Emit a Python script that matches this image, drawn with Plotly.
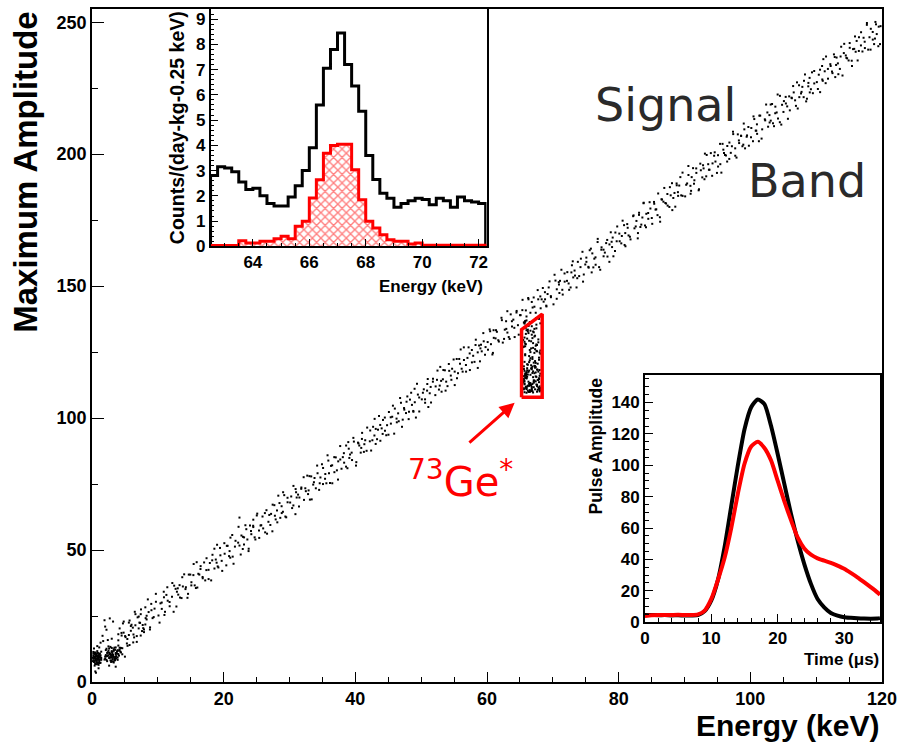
import plotly.graph_objects as go

# ---------------- main scatter: signal band ----------------
BAND_E = [4.0,4.2,4.5,4.7,5.1,5.4,5.6,5.9,6.0,6.3,6.5,6.8,7.2,7.4,7.7,7.9,8.1,8.3,8.6,8.8,
9.0,9.2,9.5,9.7,10.1,10.4,10.6,10.9,11.0,11.3,11.5,11.8,12.2,12.4,12.7,12.9,13.1,13.3,13.6,13.8,
14.0,14.2,14.5,14.7,15.1,15.4,15.6,15.9,16.0,16.3,16.5,16.8,17.2,17.4,17.7,17.9,18.1,18.3,18.6,18.8,
19.0,19.2,19.5,19.7,20.1,20.4,20.6,20.9,21.0,21.3,21.5,21.8,22.2,22.4,22.7,22.9,23.1,23.3,23.6,23.8,
24.0,24.2,24.5,24.7,25.1,25.4,25.6,25.9,26.0,26.3,26.5,26.8,27.2,27.4,27.7,27.9,28.1,28.3,28.6,28.8,
29.0,29.2,29.5,29.7,30.1,30.4,30.6,30.9,31.0,31.3,31.5,31.8,32.2,32.4,32.7,32.9,33.1,33.3,33.6,33.8,
34.0,34.2,34.5,34.7,35.1,35.4,35.6,35.9,36.0,36.3,36.5,36.8,37.2,37.4,37.7,37.9,38.1,38.3,38.6,38.8,
39.0,39.2,39.5,39.7,40.1,40.4,40.6,40.9,41.0,41.3,41.5,41.8,42.2,42.4,42.7,42.9,43.1,43.3,43.6,43.8,
44.0,44.2,44.5,44.7,45.1,45.4,45.6,45.9,46.0,46.3,46.5,46.8,47.2,47.4,47.7,47.9,48.1,48.3,48.6,48.8,
49.0,49.2,49.5,49.7,50.1,50.4,50.6,50.9,51.0,51.3,51.5,51.8,52.2,52.4,52.7,52.9,53.1,53.3,53.6,53.8,
54.0,54.2,54.5,54.7,55.1,55.4,55.6,55.9,56.0,56.3,56.5,56.8,57.2,57.4,57.7,57.9,58.1,58.3,58.6,58.8,
59.0,59.2,59.5,59.7,60.1,60.4,60.6,60.9,61.0,61.3,61.5,61.8,62.2,62.4,62.7,62.9,63.1,63.3,63.6,63.8,
64.0,64.2,64.5,64.7,65.1,65.4,65.6,65.9,66.0,66.3,66.5,66.8,67.2,67.4,67.7,67.9,68.1,68.3,68.6,68.8,
69.0,69.2,69.5,69.7,70.1,70.4,70.6,70.9,71.0,71.3,71.5,71.8,72.2,72.4,72.7,72.9,73.1,73.3,73.6,73.8,
74.0,74.2,74.5,74.7,75.1,75.4,75.6,75.9,76.0,76.3,76.5,76.8,77.2,77.4,77.7,77.9,78.1,78.3,78.6,78.8,
79.0,79.2,79.5,79.7,80.1,80.4,80.6,80.9,81.0,81.3,81.5,81.8,82.2,82.4,82.7,82.9,83.1,83.3,83.6,83.8,
84.0,84.2,84.5,84.7,85.1,85.4,85.6,85.9,86.0,86.3,86.5,86.8,87.2,87.4,87.7,87.9,88.1,88.3,88.6,88.8,
89.0,89.2,89.5,89.7,90.1,90.4,90.6,90.9,91.0,91.3,91.5,91.8,92.2,92.4,92.7,92.9,93.1,93.3,93.6,93.8,
94.0,94.2,94.5,94.7,95.1,95.4,95.6,95.9,96.0,96.3,96.5,96.8,97.2,97.4,97.7,97.9,98.1,98.3,98.6,98.8,
99.0,99.2,99.5,99.7,100.1,100.4,100.6,100.9,101.0,101.3,101.5,101.8,102.2,102.4,102.7,102.9,103.1,103.3,103.6,103.8,
104.0,104.2,104.5,104.7,105.1,105.4,105.6,105.9,106.0,106.3,106.5,106.8,107.2,107.4,107.7,107.9,108.1,108.3,108.6,108.8,
109.0,109.2,109.5,109.7,110.1,110.4,110.6,110.9,111.0,111.3,111.5,111.8,112.2,112.4,112.7,112.9,113.1,113.3,113.6,113.8,
114.0,114.2,114.5,114.7,115.1,115.4,115.6,115.9,116.0,116.3,116.5,116.8,117.2,117.4,117.7,117.9,118.1,118.3,118.6,118.8,
119.0,119.2,119.5,119.7,22.4,24.5]
BAND_A = [18.1,13.0,17.6,22.2,17.0,13.7,22.5,19.4,21.7,18.0,26.6,17.4,22.5,25.7,21.6,19.9,28.3,23.7,26.5,19.9,
29.6,24.2,27.8,33.4,25.2,29.8,27.7,34.2,25.4,33.0,30.8,28.7,37.5,26.6,35.3,34.2,33.1,36.7,31.8,36.2,
40.8,35.2,31.9,40.7,37.8,40.5,36.6,45.4,35.8,40.7,43.9,39.8,38.5,46.9,42.5,45.1,38.5,48.2,43.0,46.4,
52.0,43.4,48.0,45.9,52.6,44.2,51.6,49.6,47.1,55.7,44.8,53.5,52.8,51.7,55.5,50.4,54.8,59.4,54.0,50.5,
59.3,56.0,58.7,54.8,63.8,54.6,59.3,62.7,58.2,56.7,65.1,60.7,63.7,57.1,67.0,61.6,65.0,70.6,62.2,66.6,
64.5,70.8,62.4,69.8,68.0,65.9,74.3,63.6,71.9,71.0,69.9,73.7,69.0,73.4,78.2,72.6,69.1,77.9,74.8,77.3,
73.4,82.0,72.8,77.5,81.1,77.0,75.3,83.9,79.1,81.9,75.3,85.2,80.2,83.6,89.4,80.8,85.2,83.1,89.6,81.0,
88.4,86.2,84.1,92.5,82.0,90.7,89.6,88.7,92.1,87.2,91.6,96.4,91.2,87.7,96.7,93.4,95.9,92.0,100.8,91.4,
96.1,99.3,95.2,93.5,102.3,97.9,100.5,94.1,103.6,98.4,101.8,107.6,99.4,103.8,101.9,108.2,99.6,107.0,105.0,102.7,
111.1,100.2,108.9,107.8,107.1,110.9,105.8,110.4,114.8,109.4,105.9,114.9,112.0,114.5,110.8,119.4,110.0,114.7,118.1,113.8,
112.1,120.5,116.1,118.7,112.5,122.4,117.0,120.6,126.0,117.6,122.0,120.1,126.8,118.2,125.8,123.6,121.3,129.7,119.0,127.5,
126.4,125.3,129.1,124.0,128.8,133.6,128.0,124.7,133.3,130.2,132.7,129.0,138.0,128.6,133.5,136.7,132.4,130.7,139.3,134.7,
137.3,130.7,140.6,135.2,139.0,144.8,136.2,140.8,138.5,145.0,136.4,144.0,142.2,139.9,148.5,137.6,146.1,145.0,144.1,147.7,
142.6,147.0,151.8,146.2,143.1,152.1,148.8,151.5,147.4,156.2,146.8,151.7,155.3,151.0,149.5,157.9,153.3,155.9,149.5,159.2,
153.8,157.2,163.0,154.4,159.2,157.3,163.6,155.2,162.4,160.4,158.1,166.7,156.2,164.7,163.8,162.7,166.3,161.2,165.8,170.4,
164.8,161.3,170.3,167.0,169.9,166.2,174.8,165.6,170.1,173.5,169.2,167.7,176.5,171.9,174.7,168.1,177.8,172.4,176.0,181.6,
173.0,177.4,175.5,181.8,173.6,181.2,179.0,176.9,185.1,174.4,182.9,182.0,181.3,184.9,180.0,184.4,189.0,183.4,180.1,188.9,
185.6,188.1,184.4,193.0,184.0,188.9,192.1,188.0,186.1,194.7,190.1,192.9,186.7,196.4,191.2,194.6,200.2,191.6,196.2,194.1,
200.4,191.8,199.4,197.2,195.3,203.9,193.0,201.7,200.4,199.5,203.1,198.2,203.0,207.6,202.2,198.7,207.5,204.2,206.9,203.0,
211.6,202.2,207.1,210.3,206.4,204.9,213.3,208.9,211.3,204.9,214.6,209.4,213.2,218.8,210.4,214.8,212.7,219.0,210.6,218.0,
215.8,213.5,222.1,211.2,220.1,219.2,218.1,221.9,216.6,221.2,225.8,220.4,217.3,226.1,223.0,225.5,221.6,230.2,221.0,225.7,
228.9,224.6,223.1,231.5,227.3,230.1,223.5,233.4,227.8,231.4,237.0,228.6,233.4,231.3,237.8,229.2,236.6,234.4,232.3,240.7,
229.8,238.3,237.4,236.3,240.3,235.4,239.8,244.6,238.8,235.5,244.3,241.2,244.1,240.2,249.0,239.6,244.3,247.5,243.4,241.7,
250.1,245.5,248.3,241.7,62.3,61.5]

# second batch of band events
BAND2_E = [4.15,4.48,4.82,5.03,5.37,5.71,6.26,6.59,6.93,7.09,7.44,7.78,8.15,8.48,8.82,9.03,9.37,9.71,
10.26,10.59,10.93,11.09,11.44,11.78,12.15,12.48,12.82,13.03,13.37,13.71,14.26,14.59,14.93,15.09,15.44,15.78,
16.15,16.48,16.82,17.03,17.37,17.71,18.26,18.59,18.93,19.09,19.44,19.78,20.15,20.48,20.82,21.03,21.37,21.71,
22.26,22.59,22.93,23.09,23.44,23.78,24.15,24.48,24.82,25.03,25.37,25.71,26.26,26.59,26.93,27.09,27.44,27.78,
28.15,28.48,28.82,29.03,29.37,29.71,30.26,30.59,30.93,31.09,31.44,31.78,32.15,32.48,32.82,33.03,33.37,33.71,
34.26,34.59,34.93,35.09,35.44,35.78,36.15,36.48,36.82,37.03,37.37,37.71,38.26,38.59,38.93,39.09,39.44,39.78,
40.15,40.48,40.82,41.03,41.37,41.71,42.26,42.59,42.93,43.09,43.44,43.78,44.15,44.48,44.82,45.03,45.37,45.71,
46.26,46.59,46.93,47.09,47.44,47.78,48.15,48.48,48.82,49.03,49.37,49.71,50.26,50.59,50.93,51.09,51.44,51.78,
52.15,52.48,52.82,53.03,53.37,53.71,54.26,54.59,54.93,55.09,55.44,55.78,56.15,56.48,56.82,57.03,57.37,57.71,
58.26,58.59,58.93,59.09,59.44,59.78,60.15,60.48,60.82,61.03,61.37,61.71,62.26,62.59,62.93,63.09,63.44,63.78,
64.15,64.48,64.82,65.03,65.37,65.71,66.26,66.59,66.93,67.09,67.44,67.78,68.15,68.48,68.82,69.03,69.37,69.71,
70.26,70.59,70.93,71.09,71.44,71.78,72.15,72.48,72.82,73.03,73.37,73.71,74.26,74.59,74.93,75.09,75.44,75.78,
76.15,76.48,76.82,77.03,77.37,77.71,78.26,78.59,78.93,79.09,79.44,79.78,80.15,80.48,80.82,81.03,81.37,81.71,
82.26,82.59,82.93,83.09,83.44,83.78,84.15,84.48,84.82,85.03,85.37,85.71,86.26,86.59,86.93,87.09,87.44,87.78,
88.15,88.48,88.82,89.03,89.37,89.71,90.26,90.59,90.93,91.09,91.44,91.78,92.15,92.48,92.82,93.03,93.37,93.71,
94.26,94.59,94.93,95.09,95.44,95.78,96.15,96.48,96.82,97.03,97.37,97.71,98.26,98.59,98.93,99.09,99.44,99.78,
100.15,100.48,100.82,101.03,101.37,101.71,102.26,102.59,102.93,103.09,103.44,103.78,104.15,104.48,104.82,105.03,105.37,105.71,
106.26,106.59,106.93,107.09,107.44,107.78,108.15,108.48,108.82,109.03,109.37,109.71,110.26,110.59,110.93,111.09,111.44,111.78,
112.15,112.48,112.82,113.03,113.37,113.71,114.26,114.59,114.93,115.09,115.44,115.78,116.15,116.48,116.82,117.03,117.37,117.71,
118.26,118.59,118.93,119.09,119.44,119.78]
BAND2_A = [11.9,18.6,22.9,17.4,16.3,23.3,15.0,21.5,24.5,20.3,27.5,20.4,24.2,31.3,20.7,27.2,24.6,30.4,
22.5,30.1,32.1,26.6,35.9,30.3,32.3,36.5,28.6,35.5,32.0,39.7,35.9,33.4,40.7,36.6,44.7,35.6,
41.0,42.8,39.3,45.3,42.4,39.0,46.1,50.5,45.2,43.8,50.8,42.1,48.6,51.6,47.7,54.7,47.5,51.3,
58.8,48.3,55.0,52.1,57.9,49.6,57.2,59.2,54.0,63.1,57.4,59.4,64.0,56.2,63.3,59.5,67.2,63.0,
60.5,67.8,64.0,71.9,62.7,68.1,70.3,66.9,73.1,69.9,66.5,73.2,77.6,72.3,71.2,78.0,69.2,75.7,
79.1,75.3,82.5,75.0,78.8,85.9,75.4,82.1,79.5,85.1,76.7,84.3,86.7,81.6,90.9,84.9,86.9,91.1,
83.3,90.4,86.9,94.4,90.1,87.6,95.3,91.6,99.7,90.2,95.6,97.4,94.0,100.2,97.3,93.7,100.3,104.7,
99.8,98.8,105.8,96.7,103.2,106.2,102.4,109.6,102.4,106.0,113.0,102.5,109.6,107.1,112.9,104.2,111.8,113.8,
108.7,118.0,112.3,114.1,118.2,110.4,117.9,114.5,122.2,117.6,115.1,122.4,118.7,126.8,117.6,122.8,124.5,121.1,
127.7,124.9,121.5,127.8,132.2,126.9,125.9,132.9,124.1,130.4,133.3,129.5,137.1,130.0,133.8,140.5,130.0,136.7,
134.2,140.0,131.6,139.0,140.9,135.8,145.5,139.9,141.9,145.7,137.9,145.0,141.6,149.3,145.0,142.3,149.5,145.8,
154.3,145.2,150.6,152.0,148.6,154.8,152.0,148.6,155.2,159.4,154.0,153.0,160.4,151.7,158.2,160.8,157.0,164.2,
157.1,160.9,167.9,157.2,163.8,161.3,167.5,159.2,166.8,168.4,163.3,172.6,167.0,169.0,173.1,165.1,172.1,168.7,
176.8,172.6,170.1,177.0,173.3,181.4,172.3,177.7,179.4,175.8,181.9,179.1,176.1,182.8,187.2,181.5,180.5,187.5,
178.8,185.3,188.2,184.2,191.3,184.2,188.4,195.5,185.0,191.3,188.8,194.6,186.3,193.9,195.8,190.5,199.7,194.1,
196.5,200.7,192.9,199.6,196.2,203.9,199.7,197.2,204.4,200.5,208.5,199.4,205.2,207.0,203.6,209.4,206.6,203.2,
209.9,214.3,208.9,207.7,214.6,205.9,212.8,215.8,212.0,218.8,211.7,215.5,222.6,212.1,218.7,216.0,221.7,213.4,
221.4,223.4,218.3,227.2,221.6,223.6,227.8,220.0,227.0,223.4,231.0,226.8,224.7,232.0,228.3,236.0,226.9,232.3,
234.1,230.7,236.8,233.8,230.3,237.0,241.8,236.5,235.5,242.1,233.4,239.9,242.9,239.1,246.2,238.9,242.6,249.7,
239.6,246.3,243.8,249.2,240.9,248.5]

# ---------------- 73Ge* cluster ----------------
GE_E = [66.2,65.6,67.4,66.8,65.9,67.9,66.5,67.1,65.7,68.1,66.0,67.6,66.7,65.5,67.2,66.3,67.8,65.8,66.9,67.0,66.4,68.0,65.6,67.5,66.1,66.6,67.3,65.9,67.7,66.8,
65.7,67.0,66.4,67.6,65.8,66.9,68.1,66.2,65.5,67.3,66.6,67.9,66.0,65.9,67.5,66.7,66.1,67.2,65.6,68.0,66.5,67.4,65.7,66.8,67.8,66.3,65.8,67.1,66.9,66.0,
67.3,66.1,65.6,66.9,67.7,65.8,66.4,67.0,68.0,65.9,66.6,67.5,66.2,65.5,67.8,66.8,65.7,67.2,66.5,68.1,66.0,67.4,65.6,66.7,67.9,66.3,65.9,67.1,66.8,67.6,
66.6,65.9,67.8,66.1,67.2,65.7,66.9,67.5,66.3,68.0,65.6,67.0,66.5,67.7,65.8,66.2,67.3,66.8,65.5,67.9,66.4,67.1,65.7,66.0,67.6,66.7,65.8,68.1,66.3,67.4,
65.8,67.2,66.0,66.8,67.6,65.6,66.5,67.9,66.2,65.9,67.4,66.7,68.1,65.7,66.3,67.1,66.9,65.5,67.7,66.1,67.0,65.8,66.6,67.5,66.4,68.0,65.9,67.3,66.0,66.7,
67.1,66.4,65.7,67.8,66.0,66.9,65.6,67.3,66.6,68.0,65.9,66.2,67.6,66.8,65.8,67.0,66.5,67.9,65.5,66.3,67.4,66.1,65.7,67.2,66.7,68.1,66.0,65.9,67.5,66.5]
GE_A = [112.3,118.6,127.4,110.8,134.2,115.1,121.9,113.7,130.5,111.4,117.2,125.3,136.1,114.6,119.8,109.9,128.7,116.3,112.9,132.8,123.5,110.5,115.9,135.4,118.1,113.2,126.1,111.9,120.6,131.6,
114.0,117.7,129.3,112.1,124.2,110.2,116.8,133.5,113.5,119.1,122.7,111.1,137.0,115.4,127.9,112.6,118.9,130.9,110.9,116.0,125.8,113.9,121.3,134.8,111.6,117.5,128.2,114.3,119.5,109.6,
131.2,115.7,111.3,122.4,118.3,136.5,113.0,126.6,110.1,116.6,133.1,112.7,120.2,114.9,129.8,111.8,117.9,124.7,110.6,135.9,115.2,119.3,127.1,112.4,113.6,132.2,116.1,121.0,110.3,118.4,
125.0,111.5,114.4,130.1,117.0,109.8,123.1,115.6,134.9,112.0,119.6,128.4,113.3,110.7,136.8,116.5,121.6,111.2,126.9,114.8,118.0,132.5,112.8,117.4,110.0,129.1,115.3,124.4,113.8,120.9,
116.9,133.8,111.0,119.0,127.7,114.1,112.5,122.1,110.4,131.9,115.8,118.8,125.6,113.1,135.1,111.7,117.1,129.6,114.5,120.4,109.7,123.8,116.4,134.0,112.2,118.2,128.0,110.9,115.0,126.4,
113.4,121.2,136.3,117.6,111.3,130.3,114.7,119.7,110.2,124.9,116.2,132.9,112.6,118.5,127.2,115.5,109.9,122.9,113.8,135.6,117.3,111.9,128.9,114.2,120.0,110.6,133.3,116.7,125.5,112.9]

# ---------------- low-energy clusters ----------------
LOW_E = [0.2,0.5,0.9,1.2,0.3,0.7,1.0,1.4,0.1,0.6,0.8,1.3,0.4,1.1,0.2,0.9,0.5,1.2,0.7,0.3,1.0,0.6,1.4,0.8,0.2,1.1,0.4,0.9,0.6,1.3,
0.3,0.7,1.0,0.5,1.2,0.1,0.8,0.4,1.1,0.6,0.9,0.3,1.3,0.7,0.2,1.0,0.5,0.8,1.2,0.4,0.6,1.4,0.3,0.9,0.7,1.1,0.5,0.2,1.0,0.8,
2.1,2.6,3.0,3.4,3.9,2.3,2.8,3.2,3.6,4.1,2.0,2.5,2.9,3.3,3.7,4.4,2.2,2.7,3.1,3.5,3.8,2.4,3.0,3.4,4.0,1.9,2.6,3.2,3.6,4.2,
2.1,2.8,3.3,3.7,2.5,2.9,3.1,3.5,3.9,2.3,2.7,3.0,3.4,4.3,2.0,2.6,3.2,3.6,2.4,2.8,3.3,3.8,2.2,3.0,3.5,4.0,2.5,2.9,3.1,3.7,
2.1,2.7,3.4,3.9,4.6,2.3,3.2,3.6,2.8,3.0,
0.5,1.0,1.6,2.2,0.8,1.9,3.2,4.0,4.8,5.3,5.9,6.4,7.1,7.6,0.3,1.3,2.6,3.6,4.4,5.0,5.6,6.2,6.8,7.3,7.9,8.3,1.7,2.7,3.0,4.2,
0.6,1.1,2.4,3.9,5.7,6.6,7.4,8.1,2.0,4.6]
LOW_A = [8.1,9.6,7.4,10.8,9.0,6.7,8.8,11.5,7.9,10.2,8.4,9.3,6.2,10.5,9.9,7.1,11.2,8.6,9.8,7.6,10.0,8.9,9.1,6.9,10.7,7.8,9.4,11.0,8.2,7.3,
9.7,10.4,6.5,8.7,9.5,9.2,11.7,7.7,8.3,10.9,9.1,8.0,10.1,7.5,11.4,8.5,6.8,9.9,7.2,10.6,9.0,8.4,11.1,9.7,8.0,10.3,7.0,8.8,9.4,10.0,
10.2,9.1,11.4,8.6,12.0,7.9,10.8,9.5,13.1,10.0,8.8,11.9,10.3,7.4,9.8,11.2,12.6,9.4,10.7,8.3,11.6,10.1,12.9,9.0,10.6,8.5,11.1,7.7,10.4,12.3,
9.7,8.2,11.8,10.9,13.5,9.9,8.7,12.2,9.3,11.0,10.5,8.0,13.0,11.5,9.6,12.7,10.1,8.9,11.3,9.2,12.4,10.8,8.4,11.7,9.5,13.8,10.0,7.6,11.4,9.0,
12.1,10.6,8.1,11.9,12.8,9.8,10.3,11.0,13.3,9.4,
4.0,5.2,17.5,19.8,13.6,23.4,22.9,15.8,18.7,14.6,21.2,16.9,24.8,19.3,12.7,14.9,6.2,5.8,12.9,9.6,17.8,20.6,15.2,22.4,18.9,25.1,15.5,24.1,16.4,20.3,
3.5,13.1,15.9,8.4,14.0,25.7,17.6,21.8,21.0,10.5]

# ---------------- inset 1: energy spectrum (0.25 keV bins) ----------------
HIST_FIRST_EDGE = 62.5
HIST_BIN_WIDTH = 0.25
HIST_ALL = [2.8,3.15,3.1,2.95,2.55,2.25,2.3,2.0,1.7,1.6,1.6,1.95,2.4,3.0,3.9,5.6,7.05,7.8,8.45,7.2,
            6.35,5.35,3.6,2.65,2.1,1.9,1.55,1.7,1.8,1.9,1.85,1.65,1.9,1.8,1.55,1.95,1.8,1.75,1.7]
HIST_GE = [0.03,0.03,0.03,0.03,0.22,0.13,0.13,0.2,0.2,0.3,0.4,0.3,0.79,0.99,1.91,2.64,3.69,3.99,4.04,4.04,
           3.03,1.84,0.99,0.72,0.46,0.26,0.2,0.2,0.09,0.13,0.04,0.04,0.04,0.04,0.04,0.04,0.04,0.04,0.04]

# ---------------- inset 2: pulses ----------------
PULSE_T = [0,1,2,3,4,5,6,7,8,9,10,11,12,13,14,15,16,17,18,19,20,21,22,23,24,25,26,27,28,29,30,31,32,33,34,35,35.4]
PULSE_SIGNAL = [4.5,4.6,4.4,4.5,4.3,4.4,4.2,4.3,4.5,7.0,13.8,27,48,74,100,123,137,142,139,125,107,88,69,52,37,
                24.4,14.8,9.5,5.9,4.2,3.2,2.8,2.5,2.3,2.2,2.3,2.6]
PULSE_GE = [4.0,4.4,4.6,4.5,4.6,4.7,4.6,4.6,5.0,7.4,14.8,27,41,60,82,101,112,115,111,103,90,77,65,54,47,
            43,40.7,39.2,37.8,36,34,31.4,28.6,25.5,22.3,19,17.5]

# ---------------- annotation geometry (data units) ----------------
GE_BOX_E = [65.25, 68.38, 68.38, 65.25, 65.25]
GE_BOX_A = [107.9, 107.9, 139.4, 133.5, 107.9]
ARROW_TAIL = (57.1, 90.2)
ARROW_HEAD = (64.2, 105.8)

RED = "#ff0000"
FONT = "Liberation Sans"

edges = [HIST_FIRST_EDGE + i * HIST_BIN_WIDTH for i in range(len(HIST_ALL) + 1)]
centers = [HIST_FIRST_EDGE + (i + 0.5) * HIST_BIN_WIDTH for i in range(len(HIST_ALL))]


def step(vals):
    xs = [edges[0]] + edges[:-1] + [edges[-1], edges[-1]]
    ys = [0] + list(vals) + [vals[-1], 0]
    return xs, ys


fig = go.Figure()

for ex, ay in ((BAND_E, BAND_A), (BAND2_E, BAND2_A), (GE_E, GE_A), (LOW_E, LOW_A)):
    fig.add_trace(go.Scatter(x=ex, y=ay, mode="markers", xaxis="x", yaxis="y",
                             marker=dict(size=2, color="black", symbol="square", line=dict(width=0)),
                             hoverinfo="skip", showlegend=False))

fig.add_trace(go.Scatter(x=GE_BOX_E, y=GE_BOX_A, mode="lines", xaxis="x", yaxis="y",
                         line=dict(color=RED, width=3.5), hoverinfo="skip", showlegend=False))

# inset 1
fig.add_trace(go.Bar(x=centers, y=HIST_GE, width=HIST_BIN_WIDTH, xaxis="x2", yaxis="y2",
                     marker=dict(color=RED, line=dict(width=0),
                                 pattern=dict(shape="x", fgcolor=RED, bgcolor="white", size=6, solidity=0.4)),
                     hoverinfo="skip", showlegend=False))
sx, sy = step(HIST_ALL)
fig.add_trace(go.Scatter(x=sx, y=sy, mode="lines", line=dict(color="black", width=3, shape="hv"),
                         xaxis="x2", yaxis="y2", hoverinfo="skip", showlegend=False))
sx, sy = step(HIST_GE)
fig.add_trace(go.Scatter(x=sx, y=sy, mode="lines", line=dict(color=RED, width=3, shape="hv"),
                         xaxis="x2", yaxis="y2", hoverinfo="skip", showlegend=False))

# inset 2
fig.add_trace(go.Scatter(x=PULSE_T, y=PULSE_SIGNAL, mode="lines", xaxis="x3", yaxis="y3",
                         line=dict(color="black", width=4, shape="spline", smoothing=0.6),
                         hoverinfo="skip", showlegend=False))
fig.add_trace(go.Scatter(x=PULSE_T, y=PULSE_GE, mode="lines", xaxis="x3", yaxis="y3",
                         line=dict(color=RED, width=4, shape="spline", smoothing=0.6),
                         hoverinfo="skip", showlegend=False))


def ax(**kw):
    base = dict(showgrid=False, zeroline=False, showline=True, linecolor="black", linewidth=1.5,
                mirror=True, ticks="inside", tickcolor="black", tickwidth=1.2,
                tickfont=dict(family=FONT, size=18, color="black", weight="bold"))
    base.update(kw)
    return base


W, H = 904, 746
ML, MR, MT, MB = 92, 19, 7, 64
PW, PH = W - ML - MR, H - MT - MB


def px(xpix):
    return (xpix - ML) / PW


def py(ypix):
    return (H - MB - ypix) / PH


INSET_TICKFONT = dict(family=FONT, size=17, color="black", weight="bold")

fig.update_layout(
    width=W, height=H, margin=dict(l=ML, r=MR, t=MT, b=MB),
    paper_bgcolor="white", plot_bgcolor="white", bargap=0, showlegend=False,
    xaxis=ax(range=[0, 120], domain=[0, 1], dtick=20, ticklen=10,
             minor=dict(dtick=5, ticklen=5, ticks="inside", tickcolor="black")),
    yaxis=ax(range=[0, 255], domain=[0, 1], dtick=50, ticklen=12,
             minor=dict(dtick=25, ticklen=6, ticks="inside", tickcolor="black")),
    xaxis2=ax(range=[62.5, 72.28], domain=[px(211), px(488)], anchor="y2", dtick=2, ticklen=8,
              tickfont=INSET_TICKFONT,
              minor=dict(dtick=0.5, ticklen=4, ticks="inside", tickcolor="black")),
    yaxis2=ax(range=[0, 9.4], domain=[py(245), 1], anchor="x2", dtick=1, ticklen=8,
              tickfont=INSET_TICKFONT,
              minor=dict(dtick=0.2, ticklen=4, ticks="inside", tickcolor="black")),
    xaxis3=ax(range=[0, 35.4], domain=[px(647), px(883)], anchor="y3", dtick=10, ticklen=8,
              tickfont=INSET_TICKFONT,
              minor=dict(dtick=2, ticklen=4, ticks="inside", tickcolor="black")),
    yaxis3=ax(range=[0, 157.6], domain=[py(622), py(374)], anchor="x3", dtick=20, ticklen=8,
              tickfont=INSET_TICKFONT,
              minor=dict(dtick=5, ticklen=4, ticks="inside", tickcolor="black")),
)

ann = []
ann.append(dict(text="Maximum Amplitude", x=px(25), y=py(8), xref="paper", yref="paper",
                xanchor="center", yanchor="top", textangle=-90, showarrow=False,
                font=dict(family=FONT, size=33, color="black", weight="bold")))
ann.append(dict(text="Energy (keV)", x=px(884), y=py(726), xref="paper", yref="paper",
                xanchor="right", yanchor="middle", showarrow=False,
                font=dict(family=FONT, size=30, color="black", weight="bold")))
ann.append(dict(text="Counts/(day-kg-0.25 keV)", x=px(177), y=py(7), xref="paper", yref="paper",
                xanchor="center", yanchor="top", textangle=-90, showarrow=False,
                font=dict(family=FONT, size=19.5, color="black", weight="bold")))
ann.append(dict(text="Energy (keV)", x=px(486), y=py(285), xref="paper", yref="paper",
                xanchor="right", yanchor="middle", showarrow=False,
                font=dict(family=FONT, size=17, color="black", weight="bold")))
ann.append(dict(text="Pulse Amplitude", x=px(598), y=py(375), xref="paper", yref="paper",
                xanchor="center", yanchor="top", textangle=-90, showarrow=False,
                font=dict(family=FONT, size=17.5, color="black", weight="bold")))
ann.append(dict(text="Time (μs)", x=px(884), y=py(659), xref="paper", yref="paper",
                xanchor="right", yanchor="middle", showarrow=False,
                font=dict(family=FONT, size=17, color="black", weight="bold")))
ann.append(dict(text="Signal", x=px(595), y=py(103), xref="paper", yref="paper",
                xanchor="left", yanchor="middle", showarrow=False,
                font=dict(family="DejaVu Sans", size=46, color="#2a2a2a")))
ann.append(dict(text="Band", x=px(748), y=py(180), xref="paper", yref="paper",
                xanchor="left", yanchor="middle", showarrow=False,
                font=dict(family="DejaVu Sans", size=46, color="#2a2a2a")))
ann.append(dict(text="<sup>73</sup>Ge<sup>*</sup>", x=px(462), y=py(478), xref="paper", yref="paper",
                xanchor="center", yanchor="middle", showarrow=False,
                font=dict(family="DejaVu Sans", size=40, color=RED)))
ann.append(dict(x=ARROW_HEAD[0], y=ARROW_HEAD[1], ax=ARROW_TAIL[0], ay=ARROW_TAIL[1],
                xref="x", yref="y", axref="x", ayref="y", text="", showarrow=True,
                arrowhead=2, arrowsize=1, arrowwidth=3, arrowcolor=RED))
fig.update_layout(annotations=ann)

fig.write_html("out.html")
